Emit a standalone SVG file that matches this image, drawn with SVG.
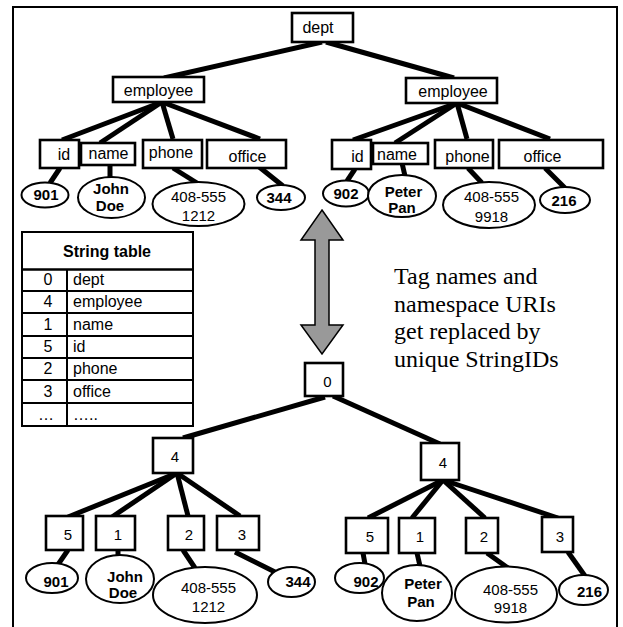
<svg xmlns="http://www.w3.org/2000/svg" width="623" height="627" viewBox="0 0 623 627">
<style>
.frame{fill:none;stroke:#000;stroke-width:2}
.box{fill:#fff;stroke:#000;stroke-width:2.6}
.ell{fill:#fff;stroke:#000;stroke-width:2}
.edge{stroke:#000;stroke-width:5;stroke-linecap:butt;fill:none}
.t{font-family:"Liberation Sans",Arial,sans-serif;font-size:16px;fill:#000;text-anchor:middle}
.tb{font-family:"Liberation Sans",Arial,sans-serif;font-size:15px;font-weight:bold;fill:#000;text-anchor:middle}
.tn{font-family:"Liberation Sans",Arial,sans-serif;font-size:15px;fill:#000;text-anchor:middle}
.tab{font-family:"Liberation Sans",Arial,sans-serif;font-size:16px;fill:#000}
.tl{fill:none;stroke:#000;stroke-width:2}
.serif{font-family:"Liberation Serif","Times New Roman",serif;font-size:24px;fill:#000}
</style>
<path class="frame" d="M13,627 V7 H617 V627"/>
<g id="connectors">
<line class="edge" x1="322" y1="42" x2="164" y2="78"/>
<line class="edge" x1="326" y1="42" x2="454" y2="78"/>
<line class="edge" x1="162" y1="102" x2="62" y2="140"/>
<line class="edge" x1="162" y1="102" x2="100" y2="143"/>
<line class="edge" x1="162" y1="102" x2="173" y2="139"/>
<line class="edge" x1="162" y1="102" x2="260" y2="139"/>
<line class="edge" x1="60" y1="168" x2="50" y2="183"/>
<line class="edge" x1="110" y1="165" x2="110" y2="178"/>
<line class="edge" x1="173" y1="168" x2="197" y2="183"/>
<line class="edge" x1="258" y1="166" x2="283" y2="186"/>
<line class="edge" x1="457" y1="103" x2="353" y2="140"/>
<line class="edge" x1="457" y1="103" x2="395" y2="143"/>
<line class="edge" x1="457" y1="103" x2="467" y2="139"/>
<line class="edge" x1="457" y1="103" x2="550" y2="139"/>
<line class="edge" x1="355" y1="169" x2="347" y2="181"/>
<line class="edge" x1="402" y1="163" x2="405" y2="176"/>
<line class="edge" x1="468" y1="168" x2="482" y2="183"/>
<line class="edge" x1="545" y1="168" x2="565" y2="188"/>
<line class="edge" x1="325" y1="397" x2="183" y2="438"/>
<line class="edge" x1="333" y1="396" x2="440" y2="444"/>
<line class="edge" x1="177" y1="473" x2="68" y2="517"/>
<line class="edge" x1="177" y1="473" x2="112" y2="517"/>
<line class="edge" x1="177" y1="473" x2="188" y2="516"/>
<line class="edge" x1="177" y1="473" x2="240" y2="516"/>
<line class="edge" x1="68" y1="550" x2="57" y2="566"/>
<line class="edge" x1="118" y1="550" x2="118" y2="556"/>
<line class="edge" x1="183" y1="550" x2="195" y2="568"/>
<line class="edge" x1="235" y1="552" x2="277" y2="573"/>
<line class="edge" x1="443" y1="480" x2="368" y2="518"/>
<line class="edge" x1="443" y1="480" x2="412" y2="518"/>
<line class="edge" x1="443" y1="480" x2="485" y2="518"/>
<line class="edge" x1="443" y1="480" x2="558" y2="518"/>
<line class="edge" x1="363" y1="553" x2="365" y2="564"/>
<line class="edge" x1="417" y1="553" x2="420" y2="566"/>
<line class="edge" x1="487" y1="553" x2="508" y2="568"/>
<line class="edge" x1="568" y1="552" x2="585" y2="576"/>
</g>
<g id="dept"><rect class="box" x="292" y="13" width="61" height="29"/><text class="t" x="318" y="33">dept</text></g>
<g id="employee1"><rect class="box" x="113" y="77" width="91" height="25"/><text class="t" x="158.5" y="96">employee</text></g>
<g id="employee2"><rect class="box" x="406" y="78" width="91" height="25"/><text class="t" x="453" y="97">employee</text></g>
<g id="id1"><rect class="box" x="40" y="140" width="39" height="28"/><text class="t" x="64" y="160">id</text></g>
<g id="name1"><rect class="box" x="81" y="143" width="54" height="22"/><text class="t" x="108.5" y="159">name</text></g>
<g id="phone1"><rect class="box" x="143" y="140" width="59" height="28"/><text class="t" x="171" y="158">phone</text></g>
<g id="office1"><rect class="box" x="207" y="140" width="79" height="28"/><text class="t" x="247.5" y="162">office</text></g>
<g id="v901a"><ellipse class="ell" cx="45" cy="195" rx="23.5" ry="12.5"/><text class="tb" x="46" y="200">901</text></g>
<g id="johndoe1"><ellipse class="ell" cx="111.5" cy="197.5" rx="33.5" ry="20.5"/><text class="tb" x="111" y="194" font-size="14">John</text><text class="tb" x="110" y="211" font-size="14">Doe</text></g>
<g id="phonev1"><ellipse class="ell" cx="198.5" cy="204" rx="46" ry="22"/><text class="tn" x="198.5" y="202">408-555</text><text class="tn" x="198.5" y="221">1212</text></g>
<g id="v344a"><ellipse class="ell" cx="281" cy="197.5" rx="24" ry="12.5"/><text class="tb" x="279" y="203">344</text></g>
<g id="id2"><rect class="box" x="332" y="140" width="39" height="29"/><text class="t" x="357.5" y="162">id</text></g>
<g id="name2"><rect class="box" x="373" y="143" width="55" height="21"/><text class="t" x="397" y="160">name</text></g>
<g id="phone2"><rect class="box" x="435" y="140" width="58" height="28"/><text class="t" x="467.5" y="162">phone</text></g>
<g id="office2"><rect class="box" x="499" y="140" width="104" height="28"/><text class="t" x="542.5" y="162">office</text></g>
<g id="v902a"><ellipse class="ell" cx="346" cy="193.5" rx="23" ry="13"/><text class="tb" x="346" y="199">902</text></g>
<g id="peterpan1"><ellipse class="ell" cx="402" cy="196" rx="34" ry="21"/><text class="tb" x="403.5" y="197">Peter</text><text class="tb" x="402" y="213">Pan</text></g>
<g id="phonev2"><ellipse class="ell" cx="489" cy="205" rx="46" ry="23"/><text class="tn" x="491.5" y="202">408-555</text><text class="tn" x="491.5" y="222">9918</text></g>
<g id="v216a"><ellipse class="ell" cx="565" cy="200" rx="25" ry="13"/><text class="tb" x="564" y="206">216</text></g>
<g id="stringtable">
<rect class="tl" x="22" y="232" width="171" height="194"/>
<line class="tl" x1="22" y1="269.5" x2="193" y2="269.5" style="stroke-width:2.5"/>
<line class="tl" x1="22" y1="291" x2="193" y2="291"/>
<line class="tl" x1="22" y1="313" x2="193" y2="313"/>
<line class="tl" x1="22" y1="336" x2="193" y2="336"/>
<line class="tl" x1="22" y1="358" x2="193" y2="358"/>
<line class="tl" x1="22" y1="380" x2="193" y2="380"/>
<line class="tl" x1="22" y1="403" x2="193" y2="403"/>
<line class="tl" x1="67" y1="269.5" x2="67" y2="426"/>
<text class="tab" x="107" y="257" text-anchor="middle" font-weight="bold" font-size="16.5">String table</text>
<text class="tab" x="48" y="285" text-anchor="middle">0</text><text class="tab" x="73" y="285">dept</text>
<text class="tab" x="48" y="307" text-anchor="middle">4</text><text class="tab" x="73" y="307">employee</text>
<text class="tab" x="48" y="330" text-anchor="middle">1</text><text class="tab" x="73" y="330">name</text>
<text class="tab" x="48" y="352" text-anchor="middle">5</text><text class="tab" x="73" y="352">id</text>
<text class="tab" x="48" y="374" text-anchor="middle">2</text><text class="tab" x="73" y="374">phone</text>
<text class="tab" x="48" y="397" text-anchor="middle">3</text><text class="tab" x="73" y="397">office</text>
<text class="tab" x="46" y="420" text-anchor="middle">…</text><text class="tab" x="73" y="420">…..</text>
</g>
<g id="arrow"><path d="M322,210 L343,240 L329,240 L329,325 L343,325 L322,354 L301,325 L315,325 L315,240 L301,240 Z" fill="#999" stroke="#000" stroke-width="1.5" stroke-linejoin="miter"/></g>
<g id="caption"><text class="serif"><tspan x="394" y="284">Tag names and</tspan><tspan x="394" y="312">namespace URIs</tspan><tspan x="394" y="339">get replaced by</tspan><tspan x="394" y="367">unique StringIDs</tspan></text></g>
<g id="n0"><rect class="box" x="305" y="363" width="38" height="33"/><text class="tn" x="327.5" y="387">0</text></g>
<g id="n4a"><rect class="box" x="153" y="438" width="40" height="35"/><text class="tn" x="175" y="462">4</text></g>
<g id="n4b"><rect class="box" x="421" y="443" width="38" height="37"/><text class="tn" x="443" y="468">4</text></g>
<g id="n5a"><rect class="box" x="46" y="516" width="37" height="34"/><text class="tn" x="68" y="540">5</text></g>
<g id="n1a"><rect class="box" x="96" y="516" width="39" height="34"/><text class="tn" x="118" y="540">1</text></g>
<g id="n2a"><rect class="box" x="168" y="516" width="36" height="34"/><text class="tn" x="189" y="540">2</text></g>
<g id="n3a"><rect class="box" x="217" y="516" width="42" height="34"/><text class="tn" x="242" y="540">3</text></g>
<g id="n5b"><rect class="box" x="346" y="518" width="42" height="35"/><text class="tn" x="370" y="542">5</text></g>
<g id="n1b"><rect class="box" x="399" y="518" width="36" height="35"/><text class="tn" x="420" y="542">1</text></g>
<g id="n2b"><rect class="box" x="466" y="518" width="32" height="35"/><text class="tn" x="484" y="542">2</text></g>
<g id="n3b"><rect class="box" x="542" y="517" width="31" height="35"/><text class="tn" x="560" y="542">3</text></g>
<g id="v901b"><ellipse class="ell" cx="52" cy="578" rx="26" ry="15"/><text class="tb" x="56" y="587">901</text></g>
<g id="johndoe2"><ellipse class="ell" cx="120" cy="579" rx="34" ry="24"/><text class="tb" x="125" y="582">John</text><text class="tb" x="123" y="598">Doe</text></g>
<g id="phonev3"><ellipse class="ell" cx="205" cy="595" rx="52" ry="28"/><text class="tn" x="208.5" y="593">408-555</text><text class="tn" x="208.5" y="612">1212</text></g>
<g id="v344b"><ellipse class="ell" cx="291.5" cy="582" rx="23.5" ry="15"/><text class="tb" x="298" y="587">344</text></g>
<g id="v902b"><ellipse class="ell" cx="359.5" cy="578" rx="24.5" ry="15"/><text class="tb" x="366" y="587">902</text></g>
<g id="peterpan2"><ellipse class="ell" cx="417" cy="593" rx="35" ry="28"/><text class="tb" x="423" y="589">Peter</text><text class="tb" x="421" y="607">Pan</text></g>
<g id="phonev4"><ellipse class="ell" cx="506" cy="594.5" rx="51" ry="28"/><text class="tn" x="510.5" y="595">408-555</text><text class="tn" x="510.5" y="613">9918</text></g>
<g id="v216b"><ellipse class="ell" cx="583.5" cy="590" rx="24.5" ry="15"/><text class="tb" x="589.5" y="597">216</text></g>
</svg>
